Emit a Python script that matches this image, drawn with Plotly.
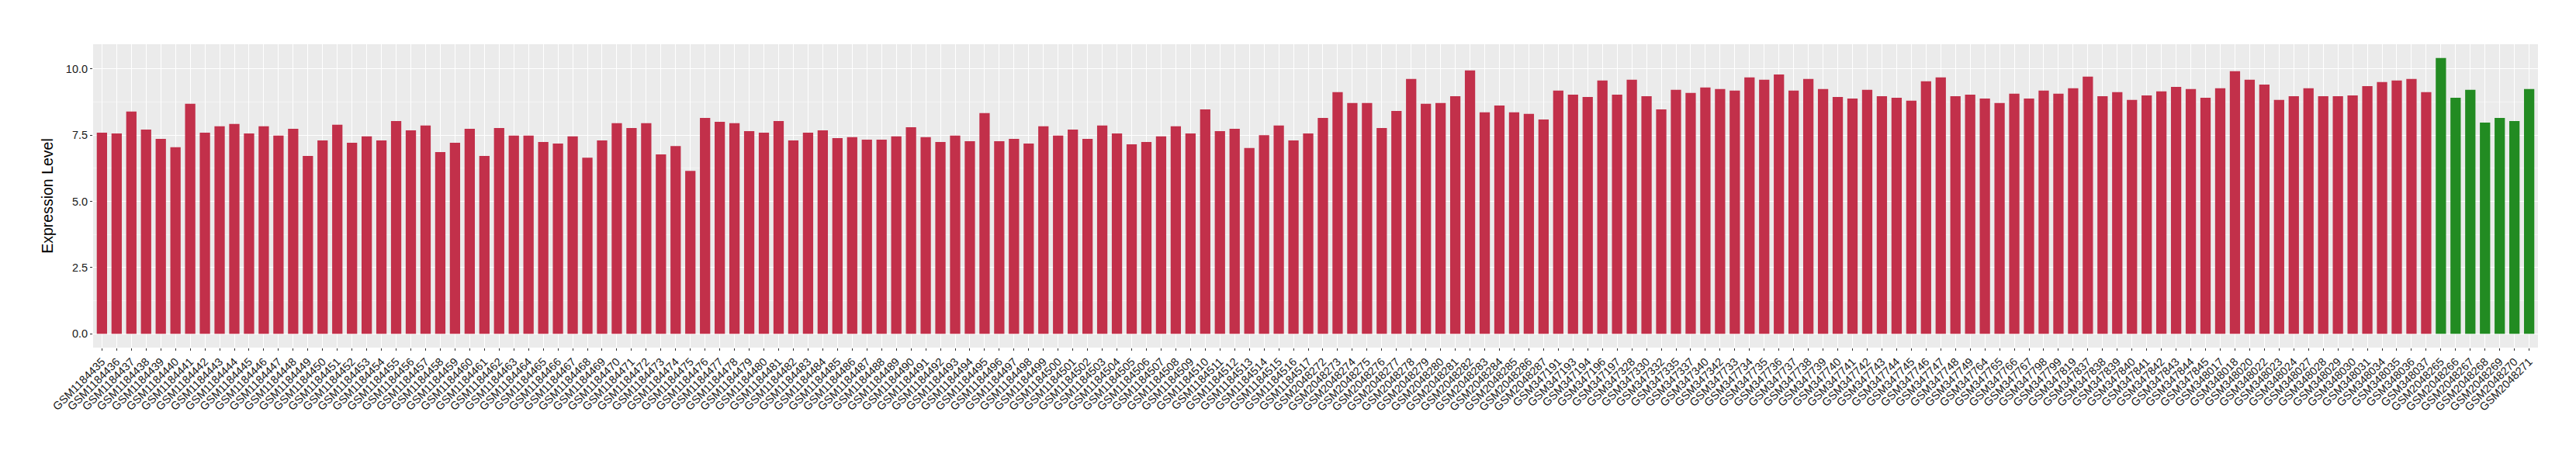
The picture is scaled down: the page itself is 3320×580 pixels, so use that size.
import plotly.graph_objects as go

samples = [
    "GSM1184435", "GSM1184436", "GSM1184437", "GSM1184438", "GSM1184439", "GSM1184440",
    "GSM1184441", "GSM1184442", "GSM1184443", "GSM1184444", "GSM1184445", "GSM1184446",
    "GSM1184447", "GSM1184448", "GSM1184449", "GSM1184450", "GSM1184451", "GSM1184452",
    "GSM1184453", "GSM1184454", "GSM1184455", "GSM1184456", "GSM1184457", "GSM1184458",
    "GSM1184459", "GSM1184460", "GSM1184461", "GSM1184462", "GSM1184463", "GSM1184464",
    "GSM1184465", "GSM1184466", "GSM1184467", "GSM1184468", "GSM1184469", "GSM1184470",
    "GSM1184471", "GSM1184472", "GSM1184473", "GSM1184474", "GSM1184475", "GSM1184476",
    "GSM1184477", "GSM1184478", "GSM1184479", "GSM1184480", "GSM1184481", "GSM1184482",
    "GSM1184483", "GSM1184484", "GSM1184485", "GSM1184486", "GSM1184487", "GSM1184488",
    "GSM1184489", "GSM1184490", "GSM1184491", "GSM1184492", "GSM1184493", "GSM1184494",
    "GSM1184495", "GSM1184496", "GSM1184497", "GSM1184498", "GSM1184499", "GSM1184500",
    "GSM1184501", "GSM1184502", "GSM1184503", "GSM1184504", "GSM1184505", "GSM1184506",
    "GSM1184507", "GSM1184508", "GSM1184509", "GSM1184510", "GSM1184511", "GSM1184512",
    "GSM1184513", "GSM1184514", "GSM1184515", "GSM1184516", "GSM1184517",
    "GSM2048272", "GSM2048273", "GSM2048274", "GSM2048275", "GSM2048276", "GSM2048277",
    "GSM2048278", "GSM2048279", "GSM2048280", "GSM2048281", "GSM2048282", "GSM2048283",
    "GSM2048284", "GSM2048285", "GSM2048286", "GSM2048287",
    "GSM347191", "GSM347193", "GSM347194", "GSM347196", "GSM347197",
    "GSM347328", "GSM347330", "GSM347332", "GSM347335", "GSM347337", "GSM347340", "GSM347342",
    "GSM347733", "GSM347734", "GSM347735", "GSM347736", "GSM347737", "GSM347738",
    "GSM347739", "GSM347740", "GSM347741", "GSM347742", "GSM347743", "GSM347744",
    "GSM347745", "GSM347746", "GSM347747", "GSM347748", "GSM347749",
    "GSM347764", "GSM347765", "GSM347766", "GSM347767",
    "GSM347798", "GSM347799", "GSM347819",
    "GSM347837", "GSM347838", "GSM347839", "GSM347840", "GSM347841", "GSM347842",
    "GSM347843", "GSM347844", "GSM347845",
    "GSM348017", "GSM348018", "GSM348020", "GSM348022", "GSM348023", "GSM348024",
    "GSM348027", "GSM348028", "GSM348029", "GSM348030", "GSM348031", "GSM348034",
    "GSM348035", "GSM348036", "GSM348037",
    "GSM2048265", "GSM2048266", "GSM2048267", "GSM2048268", "GSM2048269", "GSM2048270",
    "GSM2048271",
]

expression = [
    7.59, 7.56, 8.39, 7.71, 7.36, 7.04,
    8.68, 7.59, 7.83, 7.92, 7.56, 7.83,
    7.48, 7.74, 6.71, 7.30, 7.89, 7.21,
    7.45, 7.30, 8.03, 7.68, 7.86, 6.86,
    7.21, 7.74, 6.71, 7.77, 7.48, 7.48,
    7.24, 7.18, 7.45, 6.65, 7.30, 7.95,
    7.77, 7.95, 6.77, 7.09, 6.15, 8.15,
    8.00, 7.95, 7.65, 7.59, 8.03, 7.30,
    7.59, 7.68, 7.39, 7.42, 7.33, 7.33,
    7.45, 7.80, 7.42, 7.24, 7.48, 7.27,
    8.33, 7.27, 7.36, 7.18, 7.83, 7.48,
    7.71, 7.36, 7.86, 7.56, 7.15, 7.24,
    7.45, 7.83, 7.56, 8.47, 7.65, 7.74,
    7.01, 7.50, 7.86, 7.30, 7.56,
    8.15, 9.12, 8.71, 8.71, 7.77, 8.41,
    9.62, 8.68, 8.71, 8.97, 9.94, 8.36,
    8.62, 8.36, 8.30, 8.09,
    9.18, 9.03, 8.94, 9.56, 9.03,
    9.59, 8.97, 8.47, 9.21, 9.09, 9.30, 9.24,
    9.18, 9.68, 9.59, 9.79, 9.18, 9.62,
    9.24, 8.94, 8.88, 9.21, 8.97, 8.91,
    8.80, 9.53, 9.68, 8.97, 9.03,
    8.88, 8.71, 9.06, 8.88,
    9.18, 9.06, 9.27,
    9.71, 8.97, 9.12, 8.83, 9.00, 9.15,
    9.32, 9.24, 8.91,
    9.27, 9.91, 9.59, 9.41, 8.83, 8.97,
    9.27, 8.97, 8.97, 9.00, 9.35, 9.50,
    9.56, 9.62, 9.12,
    10.41, 8.91, 9.21, 7.97, 8.15, 8.03,
    9.24,
]

group = ["case"] * 159 + ["control"] * 7

group_colors = {"case": "#C2304A", "control": "#228B22"}

y_ticks = [0, 2.5, 5.0, 7.5, 10.0]
y_tick_labels = ["0.0", "2.5", "5.0", "7.5", "10.0"]

n = len(samples)
fig = go.Figure(
    go.Bar(
        x=samples,
        y=expression,
        marker=dict(color=[group_colors[g] for g in group], line=dict(width=0)),
        width=0.7,
        hovertemplate="%{x}: %{y}<extra></extra>",
    )
)

font_family = "Liberation Sans, Arial, Helvetica, sans-serif"

fig.update_layout(
    width=3320,
    height=580,
    margin=dict(l=112, r=57, t=49, b=140, autoexpand=False),
    plot_bgcolor="#EBEBEB",
    paper_bgcolor="white",
    showlegend=False,
    font=dict(family=font_family, color="#1A1A1A"),
)

fig.update_xaxes(
    type="category",
    categoryorder="array",
    categoryarray=samples,
    range=[-0.6, n - 0.4],
    tickangle=-45,
    tickfont=dict(size=14.5, color="#1A1A1A", family=font_family),
    ticks="outside",
    ticklen=3,
    tickwidth=1,
    tickcolor="#333333",
    showgrid=True,
    gridcolor="white",
    gridwidth=1.3,
    showline=False,
    zeroline=False,
    automargin=False,
)

fig.update_yaxes(
    range=[-0.52, 10.93],
    tickvals=y_ticks,
    ticktext=y_tick_labels,
    tickfont=dict(size=14.5, color="#1A1A1A", family=font_family),
    ticks="outside",
    ticklen=3,
    tickwidth=1,
    tickcolor="#333333",
    showgrid=True,
    gridcolor="white",
    gridwidth=1.3,
    minor=dict(tick0=1.25, dtick=2.5, showgrid=True, gridcolor="#F4F4F4", gridwidth=0.8, ticks=""),
    zeroline=False,
    showline=False,
    automargin=False,
    title=dict(text="Expression Level", font=dict(size=19.5, color="black", family=font_family), standoff=11),
)

fig.write_html("out.html")
